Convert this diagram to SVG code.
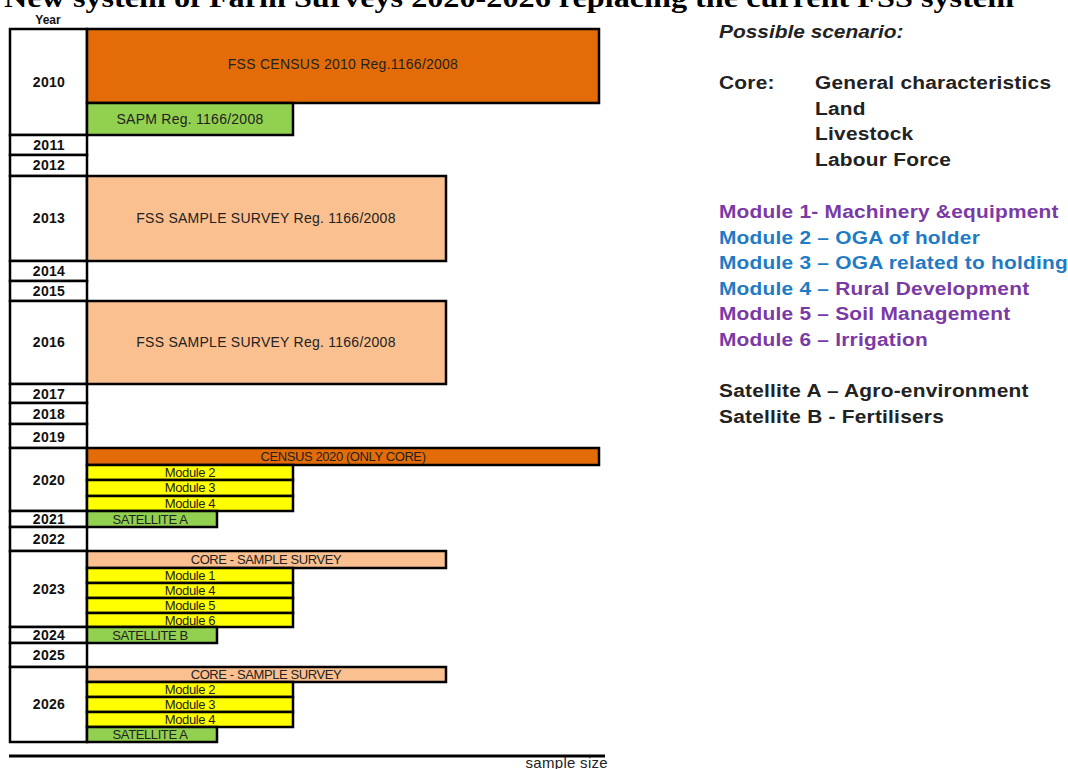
<svg xmlns="http://www.w3.org/2000/svg" width="1068" height="769" viewBox="0 0 1068 769">
<style>
.cell{fill:#fff;stroke:#000;stroke-width:2.5}
.bar{stroke:#000;stroke-width:2.5}
.yr{font-family:"Liberation Sans",Arial,sans-serif;font-weight:bold;font-size:14px;letter-spacing:0.3px;fill:#111;text-anchor:middle}
.bt{font-family:"Liberation Sans",Arial,sans-serif;font-size:14px;letter-spacing:0.25px;fill:#222;text-anchor:middle}
.st{font-family:"Liberation Sans",Arial,sans-serif;font-size:13px;fill:#222;text-anchor:middle;letter-spacing:-0.4px}
.rt{font-family:"Liberation Sans",Arial,sans-serif;font-weight:bold;font-size:18px;letter-spacing:0.2px;fill:#222}
.pu{fill:#7a3aa6}
.bl{fill:#1f7bc4}
.cen{fill:#E36C09}
.smp{fill:#FAC090}
.grn{fill:#92D050}
.yel{fill:#FFFF00}
</style>
<text x="4" y="7" font-family="'Liberation Serif','Times New Roman',serif" font-weight="bold" font-size="27" textLength="1010" lengthAdjust="spacingAndGlyphs" fill="#000">New system of Farm Surveys 2020-2026 replacing the current FSS system</text>
<text x="48" y="24" font-family="'Liberation Sans',Arial,sans-serif" font-weight="bold" font-size="12" fill="#111" text-anchor="middle">Year</text>

<g id="years">
<rect class="cell" x="10" y="29" width="77" height="106"/><text class="yr" x="49" y="87">2010</text>
<rect class="cell" x="10" y="135" width="77" height="20"/><text class="yr" x="49" y="150">2011</text>
<rect class="cell" x="10" y="155" width="77" height="21"/><text class="yr" x="49" y="170">2012</text>
<rect class="cell" x="10" y="176" width="77" height="85"/><text class="yr" x="49" y="223">2013</text>
<rect class="cell" x="10" y="261" width="77" height="20"/><text class="yr" x="49" y="276">2014</text>
<rect class="cell" x="10" y="281" width="77" height="20"/><text class="yr" x="49" y="296">2015</text>
<rect class="cell" x="10" y="301" width="77" height="83"/><text class="yr" x="49" y="347">2016</text>
<rect class="cell" x="10" y="384" width="77" height="19"/><text class="yr" x="49" y="399">2017</text>
<rect class="cell" x="10" y="403" width="77" height="21"/><text class="yr" x="49" y="419">2018</text>
<rect class="cell" x="10" y="424" width="77" height="24"/><text class="yr" x="49" y="442">2019</text>
<rect class="cell" x="10" y="448" width="77" height="63"/><text class="yr" x="49" y="485">2020</text>
<rect class="cell" x="10" y="511" width="77" height="16"/><text class="yr" x="49" y="524">2021</text>
<rect class="cell" x="10" y="527" width="77" height="24"/><text class="yr" x="49" y="544">2022</text>
<rect class="cell" x="10" y="551" width="77" height="76"/><text class="yr" x="49" y="594">2023</text>
<rect class="cell" x="10" y="627" width="77" height="16"/><text class="yr" x="49" y="640">2024</text>
<rect class="cell" x="10" y="643" width="77" height="24"/><text class="yr" x="49" y="660">2025</text>
<rect class="cell" x="10" y="667" width="77" height="75"/><text class="yr" x="49" y="709">2026</text>
</g>

<g id="bars2010">
<rect class="bar cen" x="87" y="29" width="512" height="74"/><text class="bt" x="343" y="69">FSS CENSUS 2010 Reg.1166/2008</text>
<rect class="bar grn" x="87" y="103" width="206" height="32"/><text class="bt" x="190" y="124">SAPM Reg. 1166/2008</text>
</g>
<g id="bars2013">
<rect class="bar smp" x="87" y="176" width="359" height="85"/><text class="bt" x="266" y="223">FSS SAMPLE SURVEY Reg. 1166/2008</text>
</g>
<g id="bars2016">
<rect class="bar smp" x="87" y="301" width="359" height="83"/><text class="bt" x="266" y="347">FSS SAMPLE SURVEY Reg. 1166/2008</text>
</g>
<g id="bars2020">
<rect class="bar cen" x="87" y="448" width="512" height="17"/><text class="st" x="343" y="461">CENSUS 2020 (ONLY CORE)</text>
<rect class="bar yel" x="87" y="465" width="206" height="15"/><text class="st" x="190" y="477">Module 2</text>
<rect class="bar yel" x="87" y="480" width="206" height="16"/><text class="st" x="190" y="492">Module 3</text>
<rect class="bar yel" x="87" y="496" width="206" height="15"/><text class="st" x="190" y="508">Module 4</text>
<rect class="bar grn" x="87" y="511" width="130" height="16"/><text class="st" x="150" y="524">SATELLITE A</text>
</g>
<g id="bars2023">
<rect class="bar smp" x="87" y="551" width="359" height="17"/><text class="st" x="266" y="564">CORE - SAMPLE SURVEY</text>
<rect class="bar yel" x="87" y="568" width="206" height="15"/><text class="st" x="190" y="580">Module 1</text>
<rect class="bar yel" x="87" y="583" width="206" height="15"/><text class="st" x="190" y="595">Module 4</text>
<rect class="bar yel" x="87" y="598" width="206" height="15"/><text class="st" x="190" y="610">Module 5</text>
<rect class="bar yel" x="87" y="613" width="206" height="14"/><text class="st" x="190" y="625">Module 6</text>
<rect class="bar grn" x="87" y="627" width="130" height="16"/><text class="st" x="150" y="640">SATELLITE B</text>
</g>
<g id="bars2026">
<rect class="bar smp" x="87" y="667" width="359" height="15"/><text class="st" x="266" y="679">CORE - SAMPLE SURVEY</text>
<rect class="bar yel" x="87" y="682" width="206" height="15"/><text class="st" x="190" y="694">Module 2</text>
<rect class="bar yel" x="87" y="697" width="206" height="15"/><text class="st" x="190" y="709">Module 3</text>
<rect class="bar yel" x="87" y="712" width="206" height="15"/><text class="st" x="190" y="724">Module 4</text>
<rect class="bar grn" x="87" y="727" width="130" height="15"/><text class="st" x="150" y="739">SATELLITE A</text>
</g>

<g id="axis">
<line x1="9" y1="756" x2="605" y2="756" stroke="#000" stroke-width="3"/>
<text x="608" y="768" font-family="'Liberation Sans',Arial,sans-serif" font-size="15" letter-spacing="0.3" fill="#222" text-anchor="end">sample size</text>
</g>

<g id="legend" transform="translate(719,0) scale(1.16,1)">
<text x="0" y="38" font-family="'Liberation Sans',Arial,sans-serif" font-weight="bold" font-style="italic" font-size="18" fill="#222">Possible scenario:</text>
<text class="rt" x="0" y="89">Core:</text>
<text class="rt" x="82.8" y="89">General characteristics</text>
<text class="rt" x="82.8" y="115">Land</text>
<text class="rt" x="82.8" y="140">Livestock</text>
<text class="rt" x="82.8" y="166">Labour Force</text>
<text class="rt pu" x="0" y="218">Module 1- Machinery &amp;equipment</text>
<text class="rt bl" x="0" y="244">Module 2 – OGA of holder</text>
<text class="rt bl" x="0" y="269">Module 3 – OGA related to holding</text>
<text class="rt bl" x="0" y="295">Module 4 – <tspan class="pu">Rural Development</tspan></text>
<text class="rt pu" x="0" y="320">Module 5 – Soil Management</text>
<text class="rt pu" x="0" y="346">Module 6 – Irrigation</text>
<text class="rt" x="0" y="397">Satellite A – Agro-environment</text>
<text class="rt" x="0" y="423">Satellite B - Fertilisers</text>
</g>
</svg>
